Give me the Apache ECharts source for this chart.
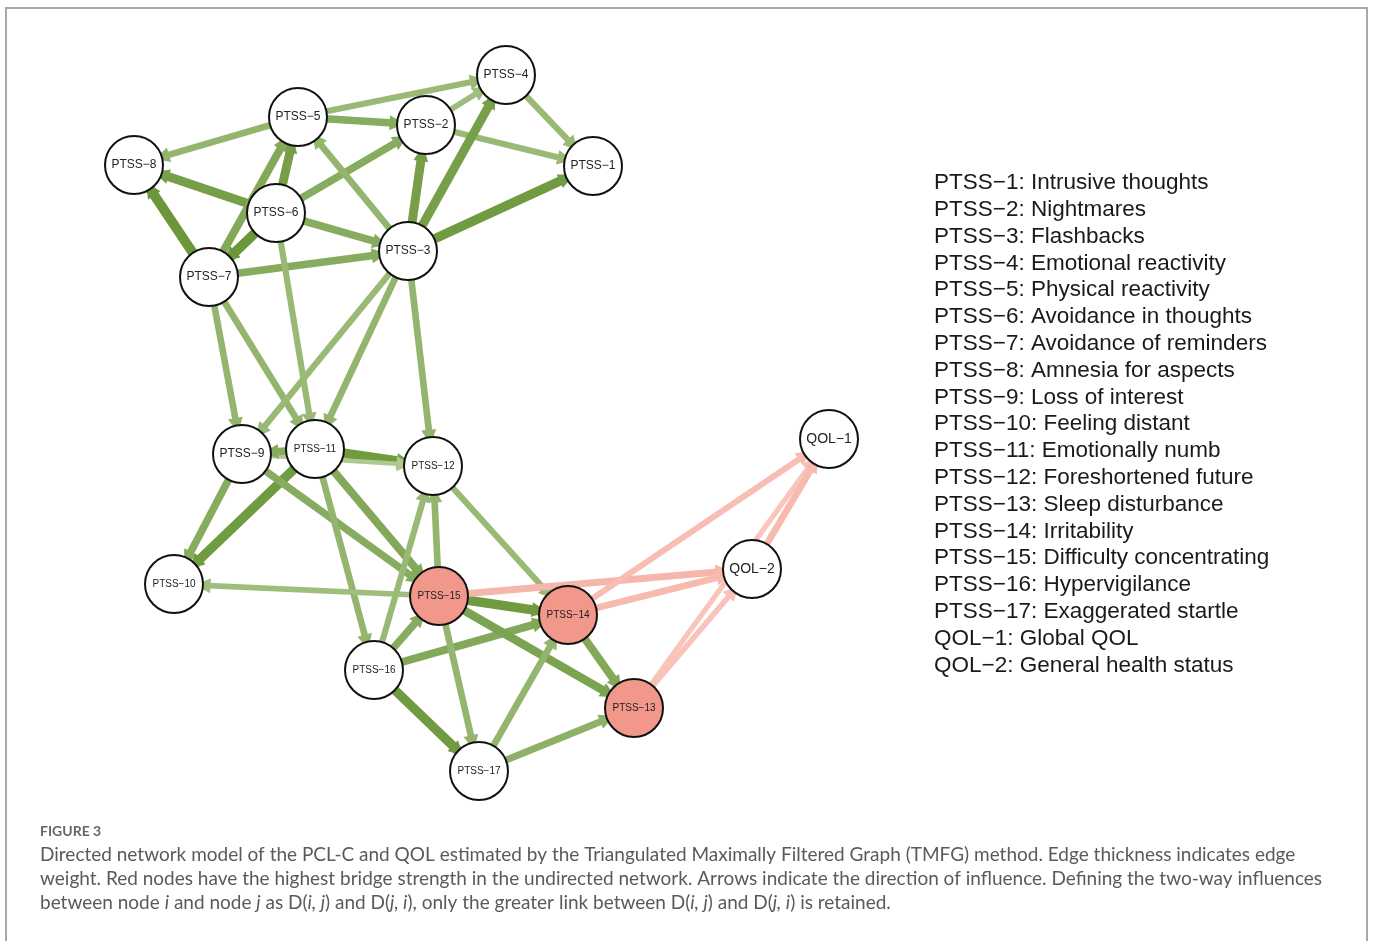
<!DOCTYPE html>
<html>
<head>
<meta charset="utf-8">
<script src="https://cdn.jsdelivr.net/npm/echarts@6/dist/echarts.min.js"></script>
<style>
html,body{margin:0;padding:0;background:#fff;}
#chart{width:1375px;height:941px;}
</style>
</head>
<body>
<div id="chart"></div>
<script>
// ---------- DATA ----------
const nodeNames = ['PTSS−1','PTSS−2','PTSS−3','PTSS−4','PTSS−5','PTSS−6','PTSS−7','PTSS−8','PTSS−9',
  'PTSS−10','PTSS−11','PTSS−12','PTSS−13','PTSS−14','PTSS−15','PTSS−16','PTSS−17','QOL−1','QOL−2'];
// network layout coordinates
const nodeX = [593, 426, 408, 506, 298, 276, 209, 134, 242, 174, 315, 433, 634, 568, 439, 374, 479, 829, 752];
const nodeY = [166, 125, 251, 75, 117, 213, 277, 165, 454, 584, 449, 466, 708, 615, 596, 670, 771, 439, 569];
const bridgeNodes = ['PTSS−13','PTSS−14','PTSS−15'];

const edgeSource = ['PTSS−5','PTSS−5','PTSS−5','PTSS−2','PTSS−2','PTSS−4','PTSS−6','PTSS−6','PTSS−6','PTSS−6',
  'PTSS−6','PTSS−7','PTSS−7','PTSS−7','PTSS−3','PTSS−3','PTSS−3','PTSS−3','PTSS−6','PTSS−7',
  'PTSS−7','PTSS−3','PTSS−3','PTSS−3','PTSS−11','PTSS−9','PTSS−11','PTSS−9','PTSS−11','PTSS−9',
  'PTSS−11','PTSS−11','PTSS−15','PTSS−15','PTSS−16','PTSS−12','PTSS−16','PTSS−16','PTSS−16','PTSS−15',
  'PTSS−15','PTSS−15','PTSS−17','PTSS−17','PTSS−14','PTSS−15','PTSS−14','PTSS−14','PTSS−13','PTSS−13','QOL−2'];
const edgeTarget = ['PTSS−4','PTSS−2','PTSS−8','PTSS−4','PTSS−1','PTSS−1','PTSS−8','PTSS−2','PTSS−5','PTSS−7',
  'PTSS−3','PTSS−8','PTSS−5','PTSS−3','PTSS−5','PTSS−2','PTSS−4','PTSS−1','PTSS−11','PTSS−9',
  'PTSS−11','PTSS−9','PTSS−11','PTSS−12','PTSS−12','PTSS−12','PTSS−9','PTSS−10','PTSS−10','PTSS−15',
  'PTSS−15','PTSS−16','PTSS−10','PTSS−12','PTSS−12','PTSS−14','PTSS−15','PTSS−14','PTSS−17','PTSS−14',
  'PTSS−13','PTSS−17','PTSS−14','PTSS−13','PTSS−13','QOL−2','QOL−2','QOL−1','QOL−1','QOL−2','QOL−1'];
const edgeWeight = [0.30,0.45,0.35,0.25,0.30,0.30,0.60,0.45,0.60,0.70,
  0.45,0.70,0.50,0.45,0.35,0.60,0.60,0.65,0.30,0.35,
  0.35,0.30,0.35,0.35,0.65,0.12,0.45,0.45,0.65,0.45,
  0.50,0.35,0.25,0.35,0.30,0.30,0.45,0.50,0.65,0.65,
  0.55,0.35,0.35,0.40,0.50,-0.40,-0.35,-0.30,-0.20,-0.22,-0.35];

const legendLines = ['PTSS−1: Intrusive thoughts','PTSS−2: Nightmares','PTSS−3: Flashbacks','PTSS−4: Emotional reactivity',
  'PTSS−5: Physical reactivity','PTSS−6: Avoidance in thoughts','PTSS−7: Avoidance of reminders','PTSS−8: Amnesia for aspects',
  'PTSS−9: Loss of interest','PTSS−10: Feeling distant','PTSS−11: Emotionally numb','PTSS−12: Foreshortened future',
  'PTSS−13: Sleep disturbance','PTSS−14: Irritability','PTSS−15: Difficulty concentrating','PTSS−16: Hypervigilance',
  'PTSS−17: Exaggerated startle','QOL−1: Global QOL','QOL−2: General health status'];

// ---------- STYLE HELPERS ----------
function mix(c1, c2, t) {
  const a = c1.match(/\w\w/g).map(h => parseInt(h, 16));
  const b = c2.match(/\w\w/g).map(h => parseInt(h, 16));
  return 'rgb(' + a.map((v, i) => Math.round(v + (b[i] - v) * t)).join(',') + ')';
}
function edgeColor(w) {
  const t = Math.min(1, Math.abs(w) / 0.7);
  return w >= 0 ? mix('bcd2a2', '6b973a', t) : mix('fbd3cb', 'f3a193', t);
}
function labelSize(name) {
  if (name.indexOf('QOL') === 0) return 14;
  const n = parseInt(name.split('−')[1], 10);
  return n >= 10 ? 10 : 12;
}

const nodes = nodeNames.map((n, i) => ({
  name: n,
  value: [nodeX[i], nodeY[i]],
  itemStyle: { color: bridgeNodes.indexOf(n) >= 0 ? '#f2988a' : '#ffffff' },
  label: { fontSize: labelSize(n) }
}));
const links = edgeSource.map((s, i) => {
  const w = edgeWeight[i];
  const lw = 3.5 + 9 * Math.abs(w);
  return {
    source: s, target: edgeTarget[i], value: w,
    symbolSize: [lw + 8, 15],
    lineStyle: { color: edgeColor(w), width: lw, opacity: 1 }
  };
});

const chart = echarts.init(document.getElementById('chart'), null, { renderer: 'canvas' });
const italic = { fontStyle: 'italic', fontFamily: 'Lato', fontSize: 19, color: '#5a5a5a' };
chart.setOption({
  animation: false,
  backgroundColor: '#ffffff',
  grid: { left: 0, right: 0, top: 0, bottom: 0 },
  xAxis: { type: 'value', min: 0, max: 1375, show: false },
  yAxis: { type: 'value', min: 0, max: 941, inverse: true, show: false },
  title: [
    {
      text: legendLines.join('\n'),
      left: 934, top: 169.5, padding: 0,
      textStyle: { fontFamily: 'Liberation Sans', fontSize: 22.5, fontWeight: 'normal', color: '#1a1a1a', lineHeight: 26.8 }
    },
    {
      text: 'FIGURE 3', left: 40, top: 823, padding: 0,
      textStyle: { fontFamily: 'Lato', fontSize: 14, fontWeight: 'bold', color: '#666', lineHeight: 16 }
    },
    {
      text: 'Directed network model of the PCL-C and QOL estimated by the Triangulated Maximally Filtered Graph (TMFG) method. Edge thickness indicates edge',
      left: 40, top: 843, padding: 0,
      textStyle: { fontFamily: 'Lato', fontSize: 19, fontWeight: 'normal', color: '#5a5a5a', lineHeight: 24 }
    },
    {
      text: 'weight. Red nodes have the highest bridge strength in the undirected network. Arrows indicate the direction of influence. Defining the two-way influences',
      left: 40, top: 867, padding: 0,
      textStyle: { fontFamily: 'Lato', fontSize: 19, fontWeight: 'normal', color: '#5a5a5a', lineHeight: 24 }
    },
    {
      text: 'between node {i|i} and node {i|j} as D({i|i, j}) and D({i|j, i}), only the greater link between D({i|i, j}) and D({i|j, i}) is retained.',
      left: 40, top: 891, padding: 0,
      textStyle: { fontFamily: 'Lato', fontSize: 19, fontWeight: 'normal', color: '#5a5a5a', lineHeight: 24, rich: { i: italic } }
    }
  ],
  graphic: [
    { type: 'rect', shape: { x: 6, y: 8, width: 1361, height: 1000 }, style: { fill: 'none', stroke: '#a8a8a8', lineWidth: 2 }, z: 100, silent: true }
  ],
  series: [{
    type: 'graph',
    coordinateSystem: 'cartesian2d',
    xAxisIndex: 0, yAxisIndex: 0,
    symbol: 'circle',
    symbolSize: 58,
    edgeSymbol: ['none', 'triangle'],
    edgeSymbolSize: [14, 15],
    itemStyle: { borderColor: '#111', borderWidth: 2 },
    label: { show: true, position: 'inside', color: '#222', fontFamily: 'Liberation Sans' },
    lineStyle: { curveness: 0 },
    emphasis: { disabled: true },
    data: nodes,
    links: links
  }]
});
</script>
</body>
</html>
